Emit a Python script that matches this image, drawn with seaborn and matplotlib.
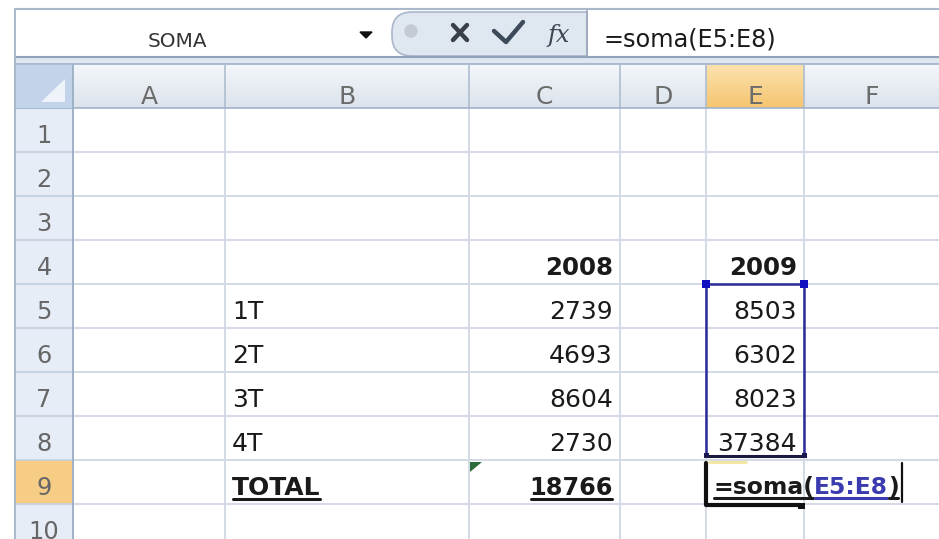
import numpy as np
import matplotlib.pyplot as plt
import matplotlib.patches as mpatches
import seaborn as sns

# sheet contents
col_names = ["A", "B", "C", "D", "E", "F"]
row_numbers = list(range(1, 11))
years = ["2008", "2009"]
quarters = ["1T", "2T", "3T", "4T"]
sales_2008 = [2739, 4693, 8604, 2730]
sales_2009 = [8503, 6302, 8023, 37384]
total_label = "TOTAL"
total_2008 = sum(sales_2008)
name_box = "SOMA"
formula = "=soma(E5:E8)"
formula_parts = ["=soma(", "E5:E8", ")"]
formula_colors = ["#1a1a1a", "#3b3bb0", "#1a1a1a"]

# layout in pixels
W, H = 939, 539
left = 15
col_edges = [73, 225, 469, 620, 706, 804, 939]  # A..F
head_top, head_bot = 65, 108
row_h = 44
active_col, active_row = "E", 9

sns.set_theme(style="white")
plt.rcParams["font.family"] = ["DejaVu Sans"]


def px(size):
    return size * 72 / 100


def col_span(name):
    i = col_names.index(name)
    return col_edges[i], col_edges[i + 1]


def row_span(r):
    top = head_bot + (r - 1) * row_h
    return top, top + row_h


fig = plt.figure(figsize=(W / 100, H / 100), dpi=100)
ax = fig.add_axes([0, 0, 1, 1])
ax.set_xlim(0, W)
ax.set_ylim(H, 0)
ax.axis("off")
grid_c = "#d3dae4"

# ---- formula bar
ax.plot([left, W], [9, 9], color="#a9b8cb", lw=1.5)
ax.plot([left, W], [57, 57], color="#8ea2b9", lw=1.5)
ax.add_patch(mpatches.Rectangle((left, 58), W - left, 6, color="#dde6f1", lw=0))
ax.plot([left, W], [64, 64], color="#9fb1c6", lw=1.2)
ax.text(177, 47, name_box, ha="center", va="baseline", fontsize=px(20), color="#333333")
ax.add_patch(mpatches.Polygon([[360, 32], [372, 32], [366, 38]], closed=True, color="#111111"))
ax.add_patch(mpatches.FancyBboxPatch((392, 12), 230, 44, boxstyle="round,pad=0,rounding_size=20",
                                     fc="#dfe7f1", ec="#a8b7ca", lw=1.2))
ax.add_patch(mpatches.Rectangle((588, 10), W - 588, 46.5, color="white", lw=0))
ax.plot([587, 587], [11, 56], color="#a0aec0", lw=1.5)
ax.add_patch(mpatches.Circle((411, 31), 6, color="#c3cad3"))
ax.plot([453, 467], [25, 40], color="#3b4048", lw=3.2, solid_capstyle="round")
ax.plot([453, 467], [40, 25], color="#3b4048", lw=3.2, solid_capstyle="round")
ax.plot([494, 506, 523], [31, 42, 22], color="#3c4a5a", lw=3.2, solid_capstyle="round")
ax.text(559, 42, "fx", ha="center", va="baseline", fontsize=px(24), color="#3d4550",
        family="DejaVu Serif", fontstyle="italic")
ax.text(603, 47, formula, ha="left", va="baseline", fontsize=px(24), color="#1a1a1a")

# ---- column headers
grad = np.linspace(0, 1, 50)[:, None]
ax.imshow(grad, extent=[col_edges[0], W, head_bot, head_top], aspect="auto",
          cmap=sns.blend_palette(["#f3f6fa", "#dce3ec"], as_cmap=True), zorder=1)
e0, e1 = col_span(active_col)
ax.imshow(grad, extent=[e0, e1, head_bot, head_top], aspect="auto",
          cmap=sns.blend_palette(["#fbe2ad", "#f6c571"], as_cmap=True), zorder=1.1)
for x in col_edges[1:-1]:
    ax.plot([x, x], [head_top, head_bot], color="#aebdcf", lw=1.2, zorder=2)
ax.plot([left, W], [head_bot, head_bot], color="#9fb2c8", lw=1.2, zorder=2)
for name in col_names:
    a, b = col_span(name)
    ax.text((a + b) / 2, 104, name, ha="center", va="baseline", fontsize=px(25),
            color="#6b6b6b", zorder=3)

# select-all corner
ax.add_patch(mpatches.Rectangle((left, head_top), col_edges[0] - left, head_bot - head_top,
                                color="#c3d4ea", lw=0, zorder=2))
ax.add_patch(mpatches.Polygon([[41, 102], [65, 102], [65, 79]], closed=True,
                              color="#eef3fa", lw=0, zorder=3))

# ---- row headers and grid
for r in row_numbers:
    top, bot = row_span(r)
    fc = "#f7cd86" if r == active_row else "#e6edf6"
    ax.add_patch(mpatches.Rectangle((left, top), col_edges[0] - left, row_h, color=fc,
                                    lw=0, zorder=1))
    ax.plot([left, col_edges[0]], [bot, bot], color="#c3d0e0", lw=1.2, zorder=2)
    ax.plot([col_edges[0], W], [bot, bot], color=grid_c, lw=1.4, zorder=1)
    ax.text((left + col_edges[0]) / 2, bot - 9, str(r), ha="center", va="baseline",
            fontsize=px(24), color="#666666", zorder=3)
for x in col_edges[1:-1]:
    ax.plot([x, x], [head_bot, H], color=grid_c, lw=1.4, zorder=1)
ax.plot([col_edges[0], col_edges[0]], [head_top, H], color="#9fb2c8", lw=1.4, zorder=2)
ax.plot([left, left], [9, H], color="#a9b8cb", lw=1.4, zorder=2)

# ---- cell contents
cell_font = px(25)
underlined = []


def put(col, row, text, align, bold=False, color="#1a1a1a", size=cell_font):
    a, b = col_span(col)
    _, bot = row_span(row)
    x = a + 7 if align == "left" else b - 7
    return ax.text(x, bot - 9, text, ha=align, va="baseline", fontsize=size,
                   fontweight="bold" if bold else "normal", color=color, zorder=4)


put("C", 4, years[0], "right", bold=True, size=px(24.5))
put("E", 4, years[1], "right", bold=True, size=px(24.5))
for i, q in enumerate(quarters):
    put("B", 5 + i, q, "left")
    put("C", 5 + i, str(sales_2008[i]), "right")
    put("E", 5 + i, str(sales_2009[i]), "right")
underlined.append(put("B", 9, total_label, "left", bold=True))
underlined.append(put("C", 9, str(total_2008), "right", bold=True, size=px(24)))

# error indicator on C9
c0, _ = col_span("C")
t9, b9 = row_span(9)
ax.add_patch(mpatches.Polygon([[c0 + 1, t9 + 2], [c0 + 13, t9 + 2], [c0 + 1, t9 + 12]],
                              closed=True, color="#2e6b3c", lw=0, zorder=5))

# formula being typed in E9, split in coloured pieces
fig.canvas.draw()
renderer = fig.canvas.get_renderer()
inv = ax.transData.inverted()
x_cur = e0 + 7
pieces = []
for part, c in zip(formula_parts, formula_colors):
    t = ax.text(x_cur, b9 - 10, part, ha="left", va="baseline", fontsize=px(23.5),
                fontweight="bold", color=c, zorder=5)
    fig.canvas.draw()
    bb = t.get_window_extent(renderer)
    x_cur = inv.transform((bb.x1, bb.y1))[0]
    pieces.append(t)
underlined.extend(pieces)

fig.canvas.draw()
for t in underlined:
    bb = t.get_window_extent(renderer)
    (x0, _), (x1, _) = inv.transform([(bb.x0, bb.y0), (bb.x1, bb.y0)])
    y = t.get_position()[1] + 4
    ax.plot([x0 + 1, x1 - 1], [y, y], color=t.get_color(), lw=2.2, zorder=5)

# text cursor
ax.plot([x_cur + 3, x_cur + 3], [t9 + 3, b9 - 2], color="#111111", lw=1.6, zorder=6)

# ---- range marquee E5:E8
top5, _ = row_span(5)
_, bot8 = row_span(8)
ax.add_patch(mpatches.Rectangle((e0, top5), e1 - e0, bot8 - 4 - top5, fill=False,
                                ec="#2a2a9a", lw=1.8, zorder=6))
ax.plot([e0 + 3, e1 - 3], [bot8 - 4, bot8 - 4], color="#1a1a40", lw=2.2, zorder=6)
for x in (e0, e1):
    ax.add_patch(mpatches.Rectangle((x - 4, top5 - 4), 8, 8, color="#1010c0", lw=0, zorder=7))
    ax.add_patch(mpatches.Rectangle((x - 2.5, bot8 - 7), 5, 5, color="#1a1a50", lw=0, zorder=7))

# ---- active cell E9
ax.plot([e0 + 3, e0 + 40], [t9 + 2, t9 + 2], color="#f3e7a0", lw=2, zorder=6)
ax.plot([e0, e0, e1 - 4], [t9 + 3, b9 + 1, b9 + 1], color="#111111", lw=3, zorder=7)
ax.add_patch(mpatches.Rectangle((e1 - 6, b9 - 1), 7, 6, color="#111111", lw=0, zorder=7))

fig.savefig("out.png", dpi=100)
